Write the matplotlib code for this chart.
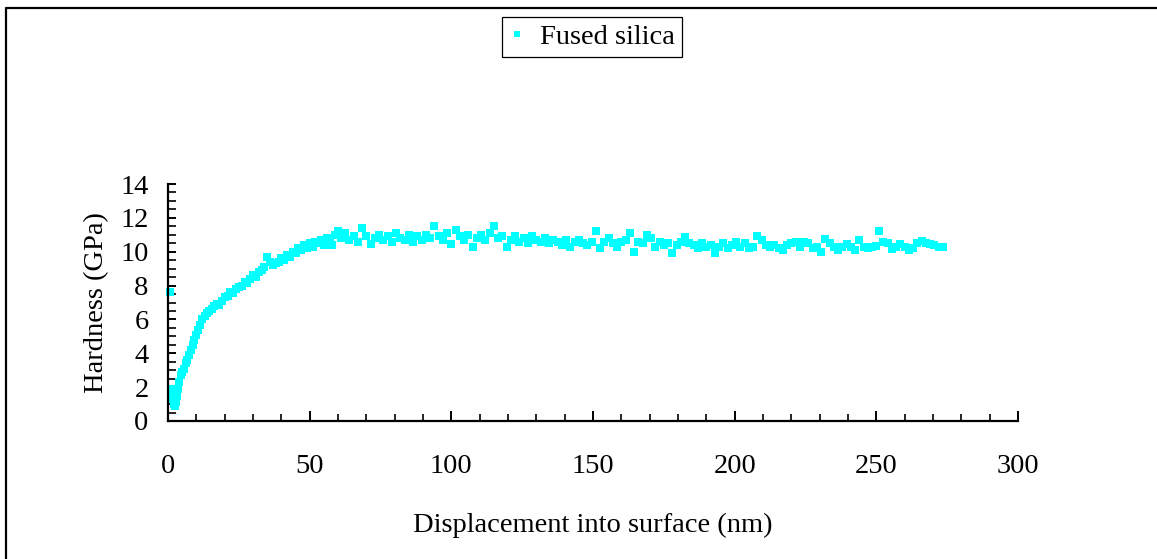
import matplotlib
matplotlib.use("Agg")
import matplotlib.pyplot as plt
from matplotlib.lines import Line2D
from matplotlib.ticker import MultipleLocator

plt.rcParams['font.family'] = ['Liberation Serif', 'DejaVu Serif']

# displacement into surface (nm) and hardness (GPa)
depth = [0.8, 1.0, 1.3, 1.6, 2.0, 2.4, 2.8, 3.2, 3.6, 4.0, 4.5, 5.0, 5.6, 6.2, 6.8,
         7.4, 8.0, 8.7, 9.3, 10.0, 10.7, 11.4, 12.1, 12.9, 13.7, 14.5, 15.4, 16.3,
         17.2, 18.1, 19.0, 20.0, 21.0, 22.0, 23.0, 24.0, 25.0, 26.0, 27.0, 28.0,
         29.0, 30.0, 31.0, 32.0, 33.0, 34.0, 35.0, 36.0, 37.0, 38.0, 39.0, 40.0,
         41.0, 42.0, 43.0, 44.0, 45.0, 46.0, 47.0, 48.0, 49.0, 50.0, 51.0, 52.0,
         53.0, 54.0, 55.0, 56.0, 57.0, 58.0, 59.0, 60.0,
         61.0, 62.5, 64.0, 65.5, 67.0, 68.5, 70.0, 71.5, 73.0, 74.5, 76.0, 77.5,
         79.0, 80.5, 82.0, 83.5, 85.0, 86.5, 88.0, 89.5, 91.0, 92.5, 94.0, 95.5,
         97.0, 98.5, 100.0, 101.5, 103.0, 104.5, 106.0, 107.5, 109.0, 110.5, 112.0,
         113.5, 115.0, 116.5, 118.0, 119.5, 121.0, 122.5, 124.0, 125.5, 127.0,
         128.5, 130.0, 131.5, 133.0, 134.5, 136.0, 137.5, 139.0, 140.5, 142.0,
         143.5, 145.0, 146.5, 148.0, 149.5, 151.0, 152.5, 154.0, 155.5, 157.0,
         158.5, 160.0, 161.5, 163.0, 164.5, 166.0, 167.5, 169.0, 170.5, 172.0,
         173.5, 175.0, 176.5, 178.0, 179.5, 181.0, 182.5, 184.0, 185.5, 187.0,
         188.5, 190.0, 191.5, 193.0, 194.5, 196.0, 197.5, 199.0, 200.5, 202.0,
         203.5, 205.0, 206.5, 208.0, 209.5, 211.0, 212.5, 214.0, 215.5, 217.0,
         218.5, 220.0, 221.5, 223.0, 224.5, 226.0, 227.5, 229.0, 230.5, 232.0,
         233.5, 235.0, 236.5, 238.0, 239.5, 241.0, 242.5, 244.0, 245.5, 247.0,
         248.5, 250.0, 251.0, 252.5, 254.0, 255.5, 257.0, 258.5, 260.0, 261.5,
         263.0, 264.5, 266.0, 267.5, 269.0, 270.5, 272.0, 273.5]
hardness = [7.6, 1.9, 1.6, 1.3, 1.0, 0.9, 1.1, 1.5, 1.9, 2.3, 2.7, 2.9, 3.1, 3.4, 3.6,
            3.9, 4.2, 4.5, 4.8, 5.1, 5.4, 5.7, 6.0, 6.2, 6.4, 6.5, 6.6, 6.8,
            6.9, 6.85, 7.1, 7.3, 7.4, 7.6, 7.55, 7.8, 7.9, 8.0, 8.2, 8.15,
            8.4, 8.6, 8.5, 8.8, 8.9, 9.1, 9.7, 9.4, 9.2, 9.35, 9.4, 9.6,
            9.5, 9.8, 9.7, 10.0, 9.9, 10.2, 10.1, 10.4, 10.2, 10.5, 10.3, 10.6,
            10.5, 10.7, 10.4, 10.8, 10.6, 10.4, 11.0, 11.2,
            10.8, 11.1, 10.7, 10.9, 10.6, 11.4, 10.9, 10.45, 10.8, 11.0, 10.7, 10.9,
            10.6, 11.1, 10.8, 10.7, 11.0, 10.6, 10.9, 10.7, 11.0, 10.8, 11.5, 10.9,
            10.7, 11.1, 10.45, 11.3, 10.9, 10.7, 11.0, 10.3, 10.8, 11.0, 10.7,
            11.1, 11.5, 10.8, 10.9, 10.3, 10.7, 10.9, 10.6, 10.8, 10.5,
            10.9, 10.7, 10.6, 10.8, 10.5, 10.7, 10.6, 10.4, 10.7, 10.3,
            10.6, 10.7, 10.5, 10.4, 10.6, 11.2, 10.2, 10.6, 10.8, 10.5,
            10.3, 10.6, 10.7, 11.1, 10.0, 10.6, 10.5, 11.0, 10.8, 10.3,
            10.6, 10.4, 10.5, 9.9, 10.4, 10.6, 10.85, 10.5, 10.4, 10.2,
            10.5, 10.3, 10.4, 9.9, 10.3, 10.5, 10.2, 10.4, 10.6, 10.3,
            10.5, 10.2, 10.3, 10.9, 10.7, 10.4, 10.3, 10.4, 10.2, 10.1,
            10.4, 10.5, 10.6, 10.3, 10.6, 10.5, 10.2, 10.3, 10.0, 10.75,
            10.5, 10.3, 10.1, 10.3, 10.45, 10.3, 10.1, 10.7, 10.3, 10.2,
            10.3, 10.35, 11.2, 10.6, 10.5, 10.15, 10.3, 10.45, 10.3, 10.1,
            10.2, 10.5, 10.65, 10.5, 10.45, 10.4, 10.3, 10.3]

W, H = 1157, 559
fig = plt.figure(figsize=(W / 100, H / 100), dpi=100)
ax = fig.add_axes([168 / W, 1 - 421 / H, 850 / W, 237 / H])

ax.plot(depth, hardness, linestyle='none', marker='s', markersize=5.4,
        markeredgewidth=0, color='#00FFFF', label='Fused silica', clip_on=False)

ax.set_xlim(0, 300)
ax.set_ylim(0, 14)
ax.xaxis.set_major_locator(MultipleLocator(50))
ax.xaxis.set_minor_locator(MultipleLocator(10))
ax.yaxis.set_major_locator(MultipleLocator(2))
ax.yaxis.set_minor_locator(MultipleLocator(0.5))

for side in ('top', 'right'):
    ax.spines[side].set_visible(False)
for side in ('left', 'bottom'):
    ax.spines[side].set_linewidth(1.6)

ax.tick_params(axis='x', which='major', direction='in', length=7, width=1.4,
               labelsize=20.5, pad=24)
ax.tick_params(axis='x', which='minor', direction='in', length=5, width=1.2)
ax.tick_params(axis='y', which='major', direction='in', length=6, width=1.4,
               labelsize=20.5, pad=14)
ax.tick_params(axis='y', which='minor', direction='in', length=6, width=1.2)

ax.set_xlabel('Displacement into surface (nm)', fontsize=20.5, labelpad=24)
ax.set_ylabel('Hardness (GPa)', fontsize=20.5, labelpad=8)

leg = fig.legend(loc='upper center', bbox_to_anchor=(592 / W, 1 - 17 / H),
                 borderaxespad=0, fontsize=20.5, frameon=True, fancybox=False,
                 edgecolor='black', framealpha=1, handlelength=0.6,
                 handletextpad=0.5, borderpad=0.25, markerscale=0.75)
leg.get_frame().set_linewidth(0.9)

# outer frame around the figure (only left and top edges visible)
fig.add_artist(Line2D([6 / W, 6 / W, 1], [0, 1 - 8 / H, 1 - 8 / H],
                      transform=fig.transFigure, color='black', linewidth=1.6))

fig.savefig('out.png', dpi=100)
